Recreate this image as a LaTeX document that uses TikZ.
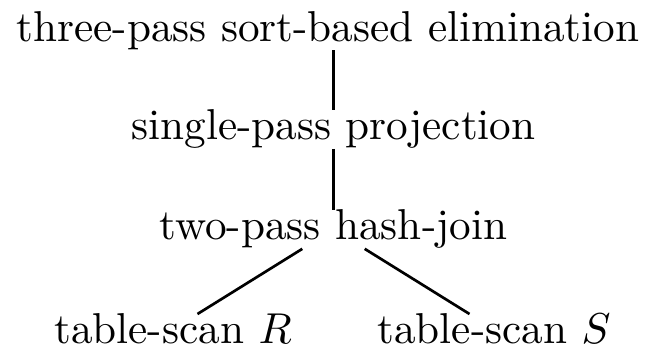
\documentclass[tikz,border=0pt]{standalone}
\begin{document}
\begin{tikzpicture}[x=0.2315pt,y=-0.2315pt,
  lbl/.style={inner sep=0pt, outer sep=0pt, anchor=base},
  edge/.style={draw, line width=0.62pt}]
\useasboundingbox (0,0) rectangle (654,348);
\node[lbl] (top) at (328,42) {three-pass sort-based elimination};
\node[lbl] (proj) at (333.5,140) {single-pass projection};
\node[lbl] (join) at (333.5,240) {two-pass hash-join};
\node[lbl] (r) at (173,344) {table-scan $R$};
\node[lbl] (s) at (494,344) {table-scan $S$};
\draw[edge] (top.south -| proj.north) -- (proj.north);
\draw[edge] (proj) -- (join);
\draw[edge] (join) -- (r);
\draw[edge] (join) -- (s);
\end{tikzpicture}
\end{document}
